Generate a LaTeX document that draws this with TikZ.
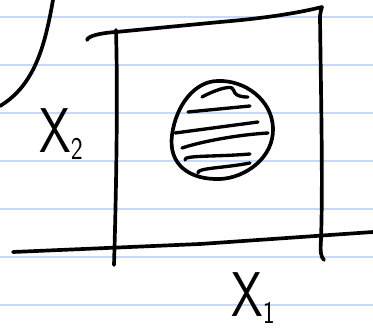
\documentclass[tikz,border=0pt]{standalone}
\usetikzlibrary{positioning, calc}

\definecolor{ruleblue}{RGB}{196,218,252}
\newcommand{\subfig}[1]{\raisebox{-0.12em}{\fontsize{18}{18}\selectfont #1}}

\begin{document}
\begin{tikzpicture}[
    x=0.02cm, y=-0.02cm,
    pen/.style={draw=black, line width=2.1pt, line cap=round, line join=round},
    hatch/.style={pen, line width=1.9pt},
    ruled/.style={draw=ruleblue, line width=1.1pt},
    axislabel/.style={font=\sffamily\fontsize{36}{36}\selectfont, inner sep=0pt}
]

% ----------------- paper -----------------
\useasboundingbox[fill=white] (0,0) rectangle (373,328);
\foreach \y in {17,65,113,161,209,257,305}
    \draw[ruled] (0,\y) -- (373,\y);

% ----------------- stray curve top left -----------------
\draw[pen] (53,0) .. controls (45,45) and (35,85) .. (0,106);

% ----------------- frame -----------------
\draw[pen] (87,40) .. controls (88,36) and (100,33) .. (116,32)
           -- (220,22) .. controls (280,17) and (310,10) .. (322,7)
           .. controls (321,10) .. (320,16);
\draw[pen] (116,30) .. controls (118,100) and (116,200) .. (114,265);
\draw[pen] (320,16) .. controls (321,100) and (323,180) .. (321,240)
           .. controls (320,252) and (321,257) .. (324,260);
\draw[pen] (13,252) -- (200,244) -- (373,232);

% ----------------- shaded blob -----------------
\draw[pen] (218,81) .. controls (245,80) and (272,100) .. (273,128)
           .. controls (274,158) and (245,178) .. (220,179)
           .. controls (190,180) and (168,165) .. (172,135)
           .. controls (176,105) and (195,81) .. (218,81);
\draw[hatch] (202,97) .. controls (215,90) and (228,86) .. (232,88)
             .. controls (235,90) and (232,97) .. (248,97);
\draw[hatch] (188,112) -- (250,106);
\draw[hatch] (175,133) -- (258,122);
\draw[hatch] (182,148) .. controls (200,142) and (235,135) .. (268,133);
\draw[hatch] (185,160) .. controls (183,155) and (215,157) .. (250,154);
\draw[hatch] (198,173) .. controls (196,168) and (225,168) .. (250,163);

% ----------------- labels -----------------
\node[axislabel, xscale=0.8, transform shape] (xtwo) at (61,134) {X\subfig{2}};
\node[axislabel, xscale=0.8, transform shape] (xone) at (253,298) {X\subfig{1}};

\end{tikzpicture}
\end{document}
